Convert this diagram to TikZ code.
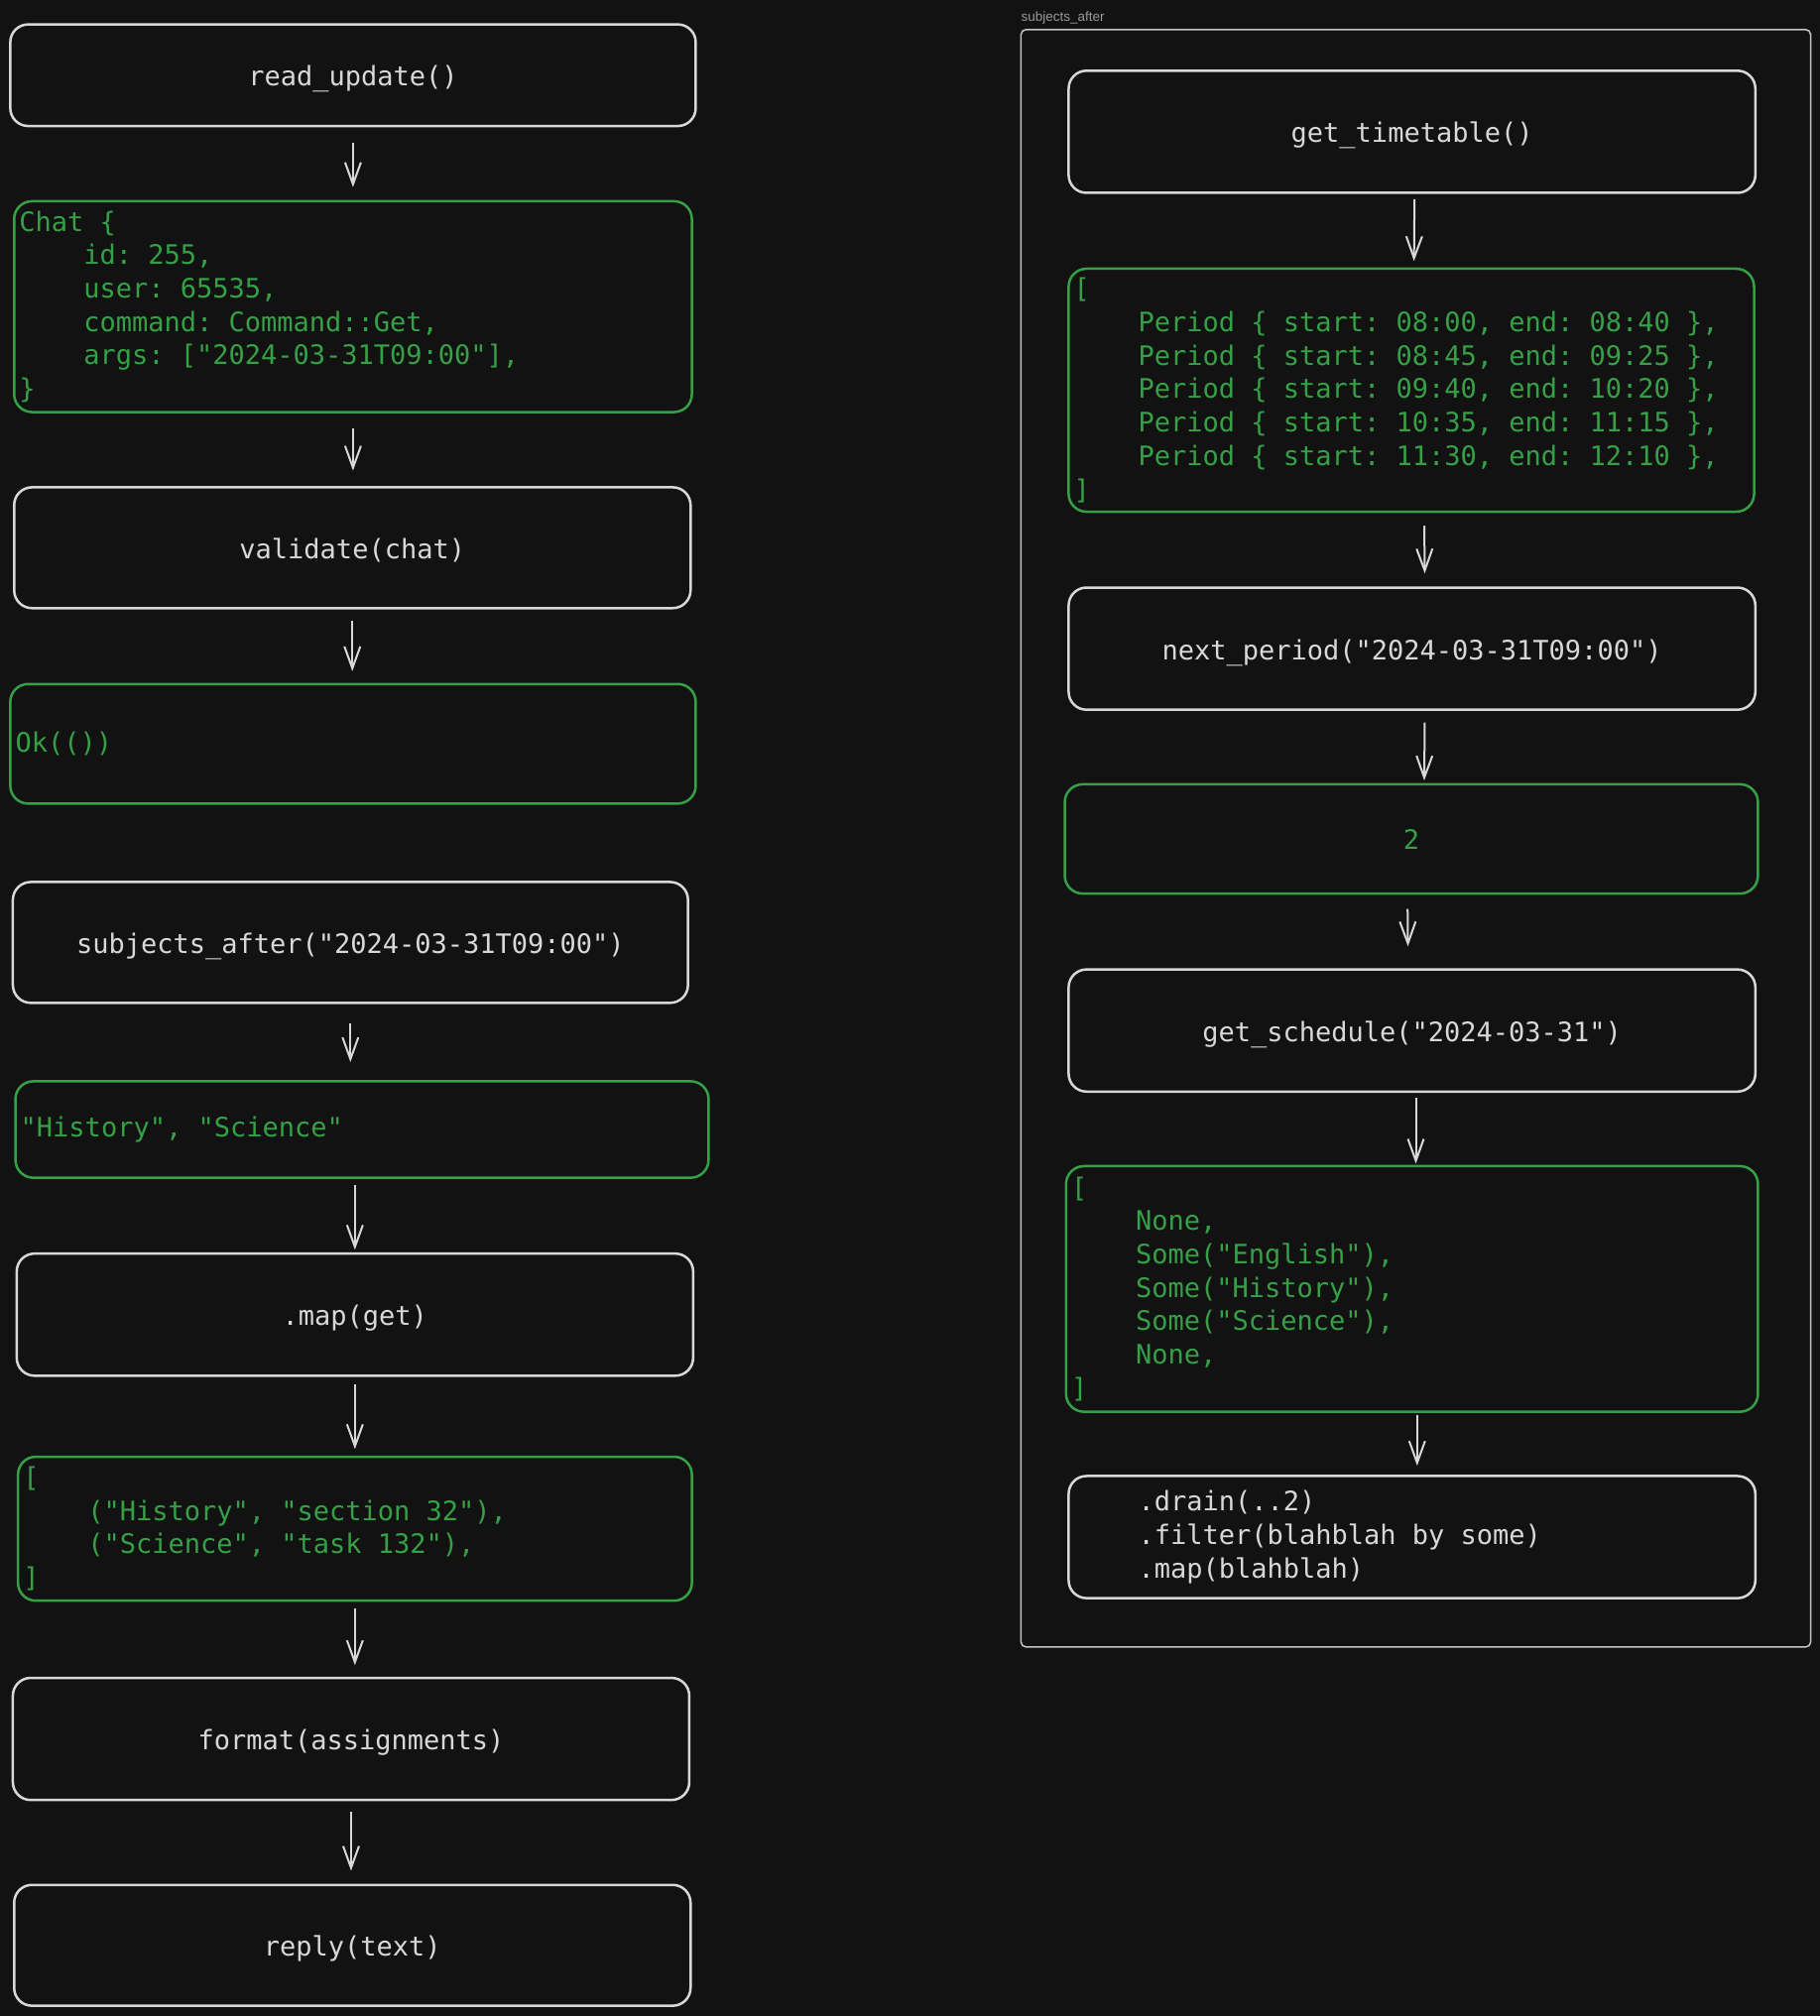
\documentclass[tikz,border=0pt]{standalone}
\usepackage{fontspec}
\setmainfont{Liberation Sans}
\setmonofont{DejaVu Sans Mono}
\usetikzlibrary{arrows.meta}

\definecolor{canvas}{HTML}{121212}
\definecolor{linegray}{HTML}{D8D8D8}
\definecolor{framegray}{HTML}{C4C4C4}
\definecolor{codegreen}{HTML}{36A046}
\definecolor{labelgray}{HTML}{9A9A9A}

\newlength{\px}
\setlength{\px}{1.2968pt}
\newcommand{\codefont}{\ttfamily\fontsize{27}{33.7}\selectfont
  \frenchspacing\spaceskip=\fontcharwd\font`0\relax\xspaceskip=\spaceskip}
\newcommand{\ind}{\hphantom{0000}}

\tikzset{
  call/.style={draw=linegray, line width=2.5pt, rounded corners=18pt, text=linegray,
    font=\codefont, inner xsep=4\px, inner ysep=0pt},
  onecall/.style={call, text height=22pt, text depth=0pt},
  value/.style={draw=codegreen, line width=2.5pt, rounded corners=18pt, text=codegreen,
    font=\codefont, align=flush left, inner xsep=4\px, inner ysep=0pt},
  flow/.style={draw=linegray, line width=2pt, -{Straight Barb[length=22pt,width=16pt]}},
  framebox/.style={draw=framegray, line width=1.5pt, rounded corners=5pt, inner sep=0pt}
}

\begin{document}
\begin{tikzpicture}[x=\px, y=-\px]
        \useasboundingbox (0,0) rectangle (1415,1568);
        \fill[canvas] (0,0) rectangle (1415,1568);

        % Frame (subjects_after)
        \node[framebox, minimum width=614\px, minimum height=1258\px] (Frame) at (1101,652) {};
        \node[anchor=west, inner sep=0pt, text=labelgray, font=\fontsize{13.5}{16}\selectfont] (FrameLabel) at (794,14) {subjects\_after};

        % Nodes (left column)
        \node[onecall, minimum width=533\px, minimum height=79\px] (L1) at (274.5,58.5) {read\_update()};
        \node[value, text width=519\px, minimum height=164\px] (L2) at (274.5,238.5) {Chat \{\\ \ind id: 255,\\ \ind user: 65535,\\ \ind command: Command::Get,\\ \ind args: ["2024-03-31T09:00"],\\ \}};
        \node[onecall, minimum width=526\px, minimum height=94\px] (L3) at (274,426) {validate(chat)};
        \node[value, text width=525\px, minimum height=93\px] (L4) at (274.5,578.5) {Ok(())};
        \node[onecall, minimum width=525\px, minimum height=94\px] (L5) at (272.5,733) {subjects\_after("2024-03-31T09:00")};
        \node[value, text width=531\px, minimum height=75\px] (L6) at (281.5,878.5) {"History", "Science"};
        \node[onecall, minimum width=526\px, minimum height=95\px] (L7) at (276,1022.5) {.map(get)};
        \node[value, text width=516\px, minimum height=112\px] (L8) at (276,1189) {[\\ \ind ("History", "section 32"),\\ \ind ("Science", "task 132"),\\ ]};
        \node[onecall, minimum width=526\px, minimum height=95\px] (L9) at (273,1352.5) {format(assignments)};
        \node[onecall, minimum width=526\px, minimum height=94\px] (L10) at (274,1513) {reply(text)};

        % Nodes (right column)
        \node[onecall, minimum width=534\px, minimum height=95\px] (R1) at (1098,102.5) {get\_timetable()};
        \node[value, text width=525\px, minimum height=189\px] (R2) at (1097.5,303.5) {[\\ \ind Period \{ start: 08:00, end: 08:40 \},\\ \ind Period \{ start: 08:45, end: 09:25 \},\\ \ind Period \{ start: 09:40, end: 10:20 \},\\ \ind Period \{ start: 10:35, end: 11:15 \},\\ \ind Period \{ start: 11:30, end: 12:10 \},\\ ]};
        \node[onecall, minimum width=534\px, minimum height=95\px] (R3) at (1098,504.5) {next\_period("2024-03-31T09:00")};
        \node[value, minimum width=539\px, minimum height=85\px] (R4) at (1097.5,652.5) {2};
        \node[onecall, minimum width=534\px, minimum height=95\px] (R5) at (1098,801.5) {get\_schedule("2024-03-31")};
        \node[value, text width=530\px, minimum height=191\px] (R6) at (1098,1002.5) {[\\ \ind None,\\ \ind Some("English"),\\ \ind Some("History"),\\ \ind Some("Science"),\\ \ind None,\\ ]};
        \node[call, align=flush left, text width=526\px, minimum height=95\px] (R7) at (1098,1195.5) {\ind .drain(..2)\\ \ind .filter(blahblah by some)\\ \ind .map(blahblah)};

        % Connecting arrows (left column)
        \draw[flow, shorten <=12\px, shorten >=10\px] (L1.south) -- (L1.south |- L2.north);
        \draw[flow, shorten <=12\px, shorten >=12\px] (L2.south) -- (L2.south |- L3.north);
        \draw[flow, shorten <=9\px, shorten >=9\px] (L3.south) -- (L3.south |- L4.north);
        \draw[flow, shorten <=15\px, shorten >=14\px] (L5.south) -- (L5.south |- L6.north);
        \draw[flow, shorten <=5\px, shorten >=2\px] (L7.north |- L6.south) -- (L7.north);
        \draw[flow, shorten <=6\px, shorten >=5\px] (L7.south) -- (L7.south |- L8.north);
        \draw[flow, shorten <=5\px, shorten >=9\px] (L8.south) -- (L8.south |- L9.north);
        \draw[flow, shorten <=8\px, shorten >=10\px] (L9.south) -- (L9.south |- L10.north);

        % Connecting arrows (right column)
        \draw[flow, shorten <=4\px, shorten >=5\px] ([xshift=2\px]R1.south) -- ([xshift=2\px]R2.north);
        \draw[flow, shorten <=10\px, shorten >=10\px] ([xshift=10\px]R2.south) -- ([xshift=10\px]R3.north);
        \draw[flow, shorten <=9\px, shorten >=2\px] ([xshift=10\px]R3.south) -- ([xshift=10\px]R4.north);
        \draw[flow, shorten <=11\px, shorten >=17\px] ([xshift=-3\px]R4.south) -- ([xshift=-3\px]R5.north);
        \draw[flow, shorten <=4\px, shorten >=1\px] ([xshift=3\px]R5.south) -- ([xshift=3\px]R6.north);
        \draw[flow, shorten <=2\px, shorten >=7\px] ([xshift=4\px]R6.south) -- ([xshift=4\px]R7.north);

    \end{tikzpicture}
\end{document}
